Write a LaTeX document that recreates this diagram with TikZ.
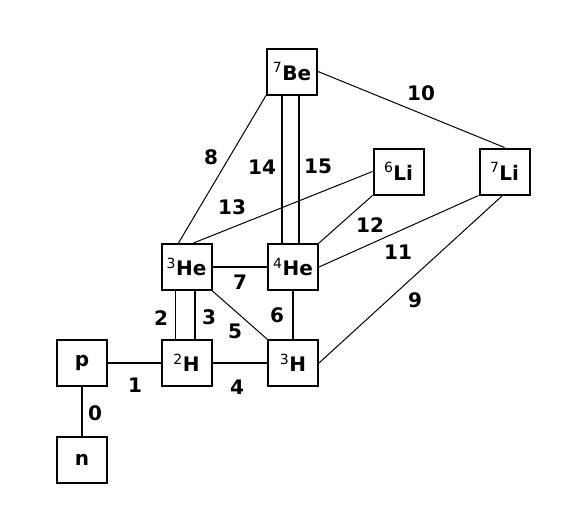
\documentclass[tikz,border=0pt]{standalone}
\usepackage{fontspec}
\setmainfont{DejaVu Sans}
\usetikzlibrary{positioning}

\tikzset{
  nucbox/.style={draw, line width=2pt, minimum width=50pt, minimum height=46pt,
    inner sep=0pt, font=\fontsize{20}{22}\selectfont\bfseries},
  thickline/.style={line width=1.6pt},
  thinline/.style={line width=1pt},
  stepnum/.style={inner sep=0pt, font=\fontsize{20}{22}\selectfont\bfseries}
}
\newcommand{\iso}[2]{{\mdseries\textsuperscript{#1}}#2}

\begin{document}
\begin{tikzpicture}[x=1pt, y=-1pt]
\useasboundingbox (0,0) rectangle (581,517);
% nuclei
\node[nucbox] (p)   at (82,363)    {p};
\node[nucbox] (n)   at (82,460)    {n};
\node[nucbox] (h2)  at (186.5,363) {\iso{2}{H}};
\node[nucbox] (h3)  at (293,363)   {\iso{3}{H}};
\node[nucbox] (he3) at (186.5,267) {\iso{3}{He}};
\node[nucbox] (he4) at (293,267)   {\iso{4}{He}};
\node[nucbox] (be7) at (292,71.5)  {\iso{7}{Be}};
\node[nucbox] (li6) at (398.5,171.5) {\iso{6}{Li}};
\node[nucbox] (li7) at (504.5,171.5) {\iso{7}{Li}};
% reactions
\draw[thickline] (p) -- (n);
\draw[thickline] (p) -- (h2);
\draw[thickline] ([xshift=-11pt]he3.south) -- ([xshift=-11pt]h2.north);
\draw[thickline] ([xshift=8.5pt]he3.south) -- ([xshift=8.5pt]h2.north);
\draw[thickline] (h2) -- (h3);
\draw[thinline] (he3.south east) -- (h3.north west);
\draw[thickline] (he4) -- (h3);
\draw[thickline] (he3) -- (he4);
\draw[thinline] (be7.south west) -- ([xshift=-8pt]he3.north);
\draw[thinline] ([xshift=-2pt]li7.south) -- (h3.east);
\draw[thinline] (be7.east) -- (li7.north);
\draw[thinline] (li7.south west) -- (he4.east);
\draw[thinline] (li6.south west) -- (he4.north east);
\draw[thinline] ([xshift=7pt]he3.north) -- (li6.west);
\draw[thickline] ([xshift=-10pt]be7.south) -- ([xshift=-11pt]he4.north);
\draw[thickline] ([xshift=7pt]be7.south) -- ([xshift=6pt]he4.north);
% reaction numbers
\foreach \k/\x/\y in {0/95/413, 1/135/385, 2/161/318, 3/209/317,
  4/237/387, 5/235/331, 6/277/315, 7/240/282, 8/211/157, 9/415/300,
  10/421/93, 11/398/252, 12/370/225, 13/232/207, 14/262/167, 15/318/166}{
  \node[stepnum] (r\k) at (\x,\y) {\k};
}
\end{tikzpicture}
\end{document}
